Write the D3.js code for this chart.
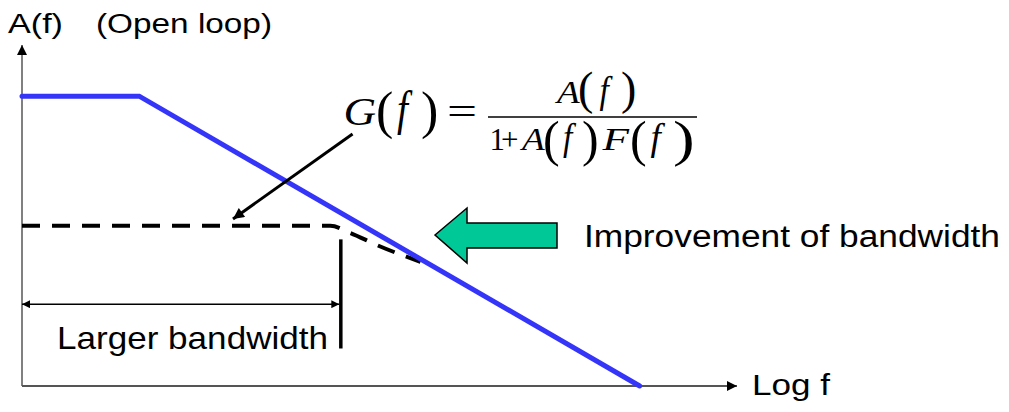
<!DOCTYPE html>
<meta charset="utf-8">
<style>
body { margin: 0; background: #fff; }
text { font-family: "Liberation Sans", Arial, sans-serif; fill: #000; }
</style>
<svg width="1009" height="412"></svg>
<script src="https://cdn.jsdelivr.net/npm/d3@7/dist/d3.min.js"></script>
<script>

// x = log f (decades), y = gain (dB)
var openLoopF = [0, 1, 5.27];
var openLoopGain = [85, 85, 0];

var closedLoopF = [0, 2.63, 2.8, 3.03, 3.4];
var closedLoopGain = [47, 47, 44.9, 41.3, 36.4];

var bandwidthF = 2.72;
var bandwidthBarGain = [11, 43];
var bandwidthArrowGain = 24;

// pointer from the formula down to the closed loop curve
var pointerF = [2.82, 1.80];
var pointerGain = [73.9, 49];

var svg = d3.select("svg"),
    x = d3.scaleLinear().domain([0, 6.1]).range([22, 737]),
    y = d3.scaleLinear().domain([0, 100]).range([386, 45]);

var defs = svg.append("defs");
function marker(id, w, h) {
  defs.append("marker")
      .attr("id", id)
      .attr("viewBox", "0 0 10 10")
      .attr("refX", 10)
      .attr("refY", 5)
      .attr("markerWidth", w)
      .attr("markerHeight", h)
      .attr("markerUnits", "userSpaceOnUse")
      .attr("orient", "auto-start-reverse")
    .append("path")
      .attr("d", "M0,0L10,5L0,10Z")
      .attr("fill", "#000");
}
marker("axisHead", 11, 10);
marker("smallHead", 10, 8);
marker("pointerHead", 14, 11);

var line = d3.line()
    .x(function(d) { return x(d[0]); })
    .y(function(d) { return y(d[1]); });

// axes
svg.append("line")
    .attr("x1", x(0)).attr("y1", y(0))
    .attr("x2", x(0)).attr("y2", y(100))
    .attr("stroke", "#808080")
    .attr("stroke-width", 2)
    .attr("marker-end", "url(#axisHead)");

svg.append("line")
    .attr("x1", x(0)).attr("y1", y(0))
    .attr("x2", x(6.1)).attr("y2", y(0))
    .attr("stroke", "#555")
    .attr("stroke-width", 2)
    .attr("marker-end", "url(#axisHead)");

// closed loop (dashed)
svg.append("path")
    .datum(closedLoopF.map(function(f, i) { return [f, closedLoopGain[i]]; }))
    .attr("d", line.curve(d3.curveMonotoneX))
    .attr("fill", "none")
    .attr("stroke", "#000")
    .attr("stroke-width", 4)
    .attr("stroke-dasharray", "18,12");

// open loop
svg.append("path")
    .datum(openLoopF.map(function(f, i) { return [f, openLoopGain[i]]; }))
    .attr("d", line.curve(d3.curveLinear))
    .attr("fill", "none")
    .attr("stroke", "#3535fa")
    .attr("stroke-width", 5)
    .attr("stroke-linecap", "round");

// bandwidth marker
svg.append("line")
    .attr("x1", x(bandwidthF)).attr("y1", y(bandwidthBarGain[0]))
    .attr("x2", x(bandwidthF)).attr("y2", y(bandwidthBarGain[1]))
    .attr("stroke", "#000")
    .attr("stroke-width", 3.5);

svg.append("line")
    .attr("x1", x(0)).attr("y1", y(bandwidthArrowGain))
    .attr("x2", x(bandwidthF) - 1.5).attr("y2", y(bandwidthArrowGain))
    .attr("stroke", "#000")
    .attr("stroke-width", 1.5)
    .attr("marker-start", "url(#smallHead)")
    .attr("marker-end", "url(#smallHead)");

// pointer arrow
svg.append("line")
    .attr("x1", x(pointerF[0])).attr("y1", y(pointerGain[0]))
    .attr("x2", x(pointerF[1])).attr("y2", y(pointerGain[1]))
    .attr("stroke", "#000")
    .attr("stroke-width", 3)
    .attr("marker-end", "url(#pointerHead)");

// green block arrow
svg.append("path")
    .attr("d", "M435,235L467,208L467,223L557,223L557,248L467,248L467,263Z")
    .attr("fill", "#00c896")
    .attr("stroke", "#000")
    .attr("stroke-width", 1.5)
    .attr("stroke-linejoin", "miter");

// labels
function label(txt, x0, y0, size, len) {
  svg.append("text")
      .attr("x", x0)
      .attr("y", y0)
      .attr("font-size", size)
      .attr("textLength", len)
      .attr("lengthAdjust", "spacingAndGlyphs")
      .text(txt);
}
label("A(f)", 8, 33, 27, 55);
label("(Open loop)", 96, 33, 27, 176);
label("Improvement of bandwidth", 584, 247, 31, 416);
label("Larger bandwidth", 57, 349, 32, 271);
label("Log f", 752, 395, 30, 78);

// formula G(f) = A(f) / (1 + A(f)F(f)), one glyph at a time
// [glyph, origin x, kind, x stretch, size factor]  kind: i = italic, p = paren, n = upright
function eqRow(baseline, size, parenSize, parenDy, glyphs) {
  var g = svg.append("g");
  glyphs.forEach(function(d) {
    var isParen = d[2] == "p";
    g.append("text")
        .attr("transform", "translate(" + d[1] + "," + (baseline + (isParen ? parenDy : 0)) + ") scale(" + d[3] + ",1)")
        .attr("font-size", isParen ? parenSize : size * (d[4] || 1))
        .attr("font-style", d[2] == "i" ? "italic" : "normal")
        .attr("letter-spacing", d[0] == "1+" ? -4 : 0)
        .style("font-family", "'Liberation Serif', 'Times New Roman', serif")
        .text(d[0]);
  });
}
eqRow(125, 41, 52, 3, [
  ["G", 343.5, "i", 1.1], ["(", 376, "p", 1], ["f", 397, "i", 0.8, 1.2],
  [")", 421, "p", 1], ["=", 447, "n", 1.3]
]);
eqRow(103, 31, 46, 1, [
  ["A", 557, "i", 1.2], ["(", 578, "p", 1], ["f", 599.5, "i", 0.9, 1.2], [")", 621, "p", 1]
]);
eqRow(150, 31, 50, 6, [
  ["1+", 489.5, "n", 1], ["A", 522, "i", 1.2], ["(", 543, "p", 1],
  ["f", 563, "i", 0.9, 1.2], [")", 582, "p", 1], ["F", 602.5, "i", 1.4], ["(", 630, "p", 1],
  ["f", 650.5, "i", 1, 1.2], [")", 673, "p", 1.3]
]);

svg.append("line")
    .attr("x1", 488).attr("y1", 117)
    .attr("x2", 697).attr("y2", 117)
    .attr("stroke", "#000")
    .attr("stroke-width", 1.5);

</script>
